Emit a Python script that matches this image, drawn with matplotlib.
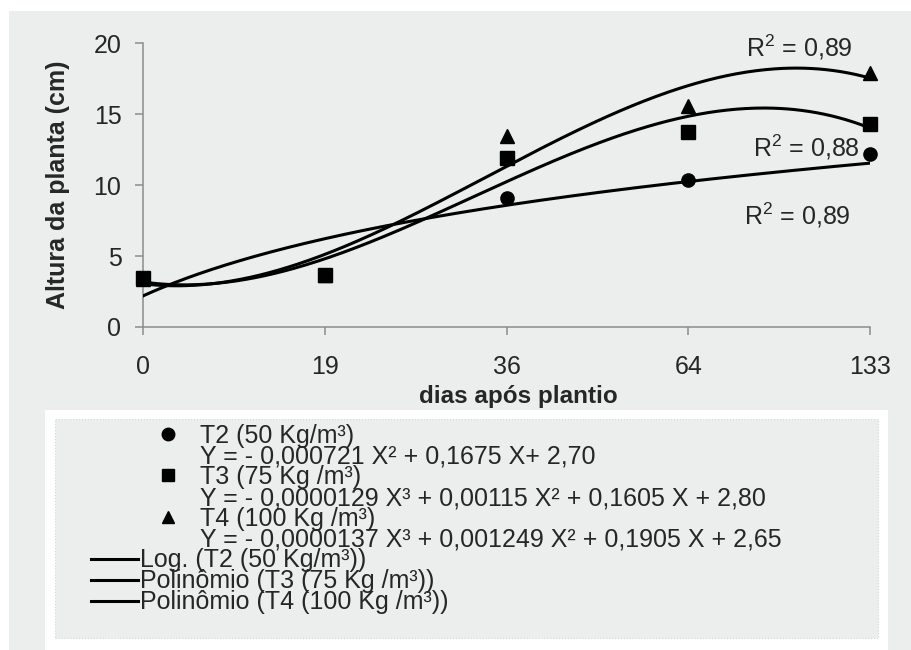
import matplotlib.pyplot as plt
import numpy as np
from matplotlib.lines import Line2D
from matplotlib.patches import Rectangle

plt.rcParams["font.family"] = ["Liberation Sans", "DejaVu Sans"]
plt.rcParams["mathtext.fontset"] = "custom"
plt.rcParams["mathtext.rm"] = "Liberation Sans"
plt.rcParams["mathtext.it"] = "Liberation Sans"

# data (x is categorical: days after planting)
dias = ["0", "19", "36", "64", "133"]
t2 = [3.45, 3.7, 9.1, 10.35, 12.2]
t3 = [3.45, 3.7, 11.9, 13.75, 14.3]
t4 = [3.4, 3.7, 13.45, 15.6, 17.9]

r2_text = ["R$^2$ = 0,89", "R$^2$ = 0,88", "R$^2$ = 0,89"]
r2_x = [3.61, 3.65, 3.60]
r2_y = [19.7, 12.7, 7.9]

leg_series = ["T2 (50 Kg/m³)", "T3 (75 Kg /m³)", "T4 (100 Kg /m³)"]
leg_eq = [
    "Y = - 0,000721 X² + 0,1675 X+ 2,70",
    "Y = - 0,0000129 X³ + 0,00115 X² + 0,1605 X + 2,80",
    "Y = - 0,0000137 X³ + 0,001249 X² + 0,1905 X + 2,65",
]
leg_trend = [
    "Log. (T2 (50 Kg/m³))",
    "Polinômio (T3 (75 Kg /m³))",
    "Polinômio (T4 (100 Kg /m³))",
]

BG = "#eceeed"
INK = "#262626"
W, H = 911, 650


def fx(px):
    return px / W


def fy(py):
    return 1 - py / H


fig = plt.figure(figsize=(9.11, 6.5), dpi=100)
fig.patch.set_facecolor("white")

# panels behind everything
fig.patches.append(Rectangle((fx(9), 0), 1 - fx(9), fy(11), transform=fig.transFigure,
                             facecolor=BG, edgecolor="none", zorder=-10))
fig.patches.append(Rectangle((fx(45), 0), fx(888) - fx(45), fy(410), transform=fig.transFigure,
                             facecolor="white", edgecolor="none", zorder=-9))
fig.patches.append(Rectangle((fx(55), fy(638)), fx(878) - fx(55), fy(419) - fy(638),
                             transform=fig.transFigure, facecolor=BG, edgecolor="#d4d6d5",
                             linestyle=":", linewidth=0.8, zorder=-8))

ax = fig.add_axes([fx(143), fy(327), fx(870) - fx(143), fy(43.3) - fy(327)])
ax.set_facecolor("none")

idx = np.arange(len(dias))
xfit = idx + 1.0  # excel trendlines on category number
grid = np.linspace(1, 5, 300)

# trend lines
c_log = np.polyfit(np.log(xfit), t2, 1)
c_t3 = np.polyfit(xfit, t3, 3)
c_t4 = np.polyfit(xfit, t4, 3)
ax.plot(grid - 1, np.polyval(c_log, np.log(grid)), color="black", lw=2.2, zorder=3)
ax.plot(grid - 1, np.polyval(c_t3, grid), color="black", lw=2.2, zorder=3)
ax.plot(grid - 1, np.polyval(c_t4, grid), color="black", lw=2.2, zorder=3)

ax.plot(idx, t4, "^", color="black", ms=10, ls="none", zorder=4, clip_on=False)
ax.plot(idx, t2, "o", color="black", ms=9.5, ls="none", zorder=5, clip_on=False)
ax.plot(idx, t3, "s", color="black", ms=9.5, ls="none", zorder=6, clip_on=False)

for txt, x, y in zip(r2_text, r2_x, r2_y):
    ax.text(x, y, txt, fontsize=18, color=INK, ha="center", va="center")

ax.set_xlim(0, 4)
ax.set_ylim(0, 20)
ax.set_xticks(idx)
ax.set_xticklabels(dias)
ax.set_yticks([0, 5, 10, 15, 20])
for s in ["top", "right"]:
    ax.spines[s].set_visible(False)
for s in ["left", "bottom"]:
    ax.spines[s].set_color("#8c8c8c")
    ax.spines[s].set_linewidth(1.1)
ax.tick_params(axis="both", colors="#8c8c8c", length=6, width=1.1, labelsize=18,
               labelcolor=INK)
ax.tick_params(axis="x", pad=14)
ax.tick_params(axis="y", pad=9.5)

ax.set_xlabel("dias após plantio", fontsize=17.5, fontweight="bold", color=INK)
ax.xaxis.set_label_coords((518 - 143) / 727, (327 - 385) / 283.7)
ax.set_ylabel("Altura da planta (cm)", fontsize=18, fontweight="bold", color=INK)
ax.yaxis.set_label_coords((70 - 143) / 727, 0.5)

# legend built by hand (mixed rows like the original)
base0, step = 443, 20.7
markers = ["o", "s", "^"]
row = 0
for name, eq, m in zip(leg_series, leg_eq, markers):
    yb = base0 + step * row
    fig.add_artist(Line2D([fx(168)], [fy(yb - 9)], marker=m, color="black", ms=9,
                          ls="none", transform=fig.transFigure))
    fig.text(fx(200), fy(yb), name, fontsize=18, color=INK, va="baseline")
    fig.text(fx(200), fy(yb + step), eq, fontsize=18, color=INK, va="baseline")
    row += 2
for name in leg_trend:
    yb = base0 + step * row
    fig.add_artist(Line2D([fx(91), fx(138)], [fy(yb - 8), fy(yb - 8)], color="black",
                          lw=2.2, transform=fig.transFigure))
    fig.text(fx(140), fy(yb), name, fontsize=18, color=INK, va="baseline")
    row += 1

fig.savefig("out.png", dpi=100, facecolor=fig.get_facecolor())
